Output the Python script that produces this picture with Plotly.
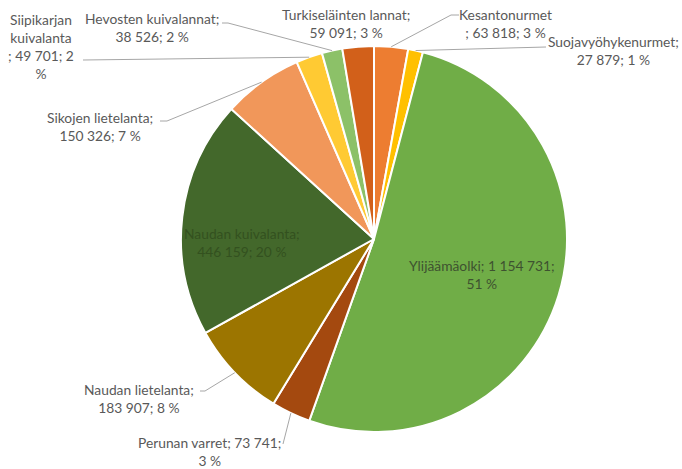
import math
import plotly.graph_objects as go

# ---- data (clockwise from 12 o'clock) ----
labels = ["Kesantonurmet", "Suojavyöhykenurmet", "Ylijäämäolki", "Perunan varret",
          "Naudan lietelanta", "Naudan kuivalanta", "Sikojen lietelanta",
          "Siipikarjan kuivalanta", "Hevosten kuivalannat", "Turkiseläinten lannat"]
values = [63818, 27879, 1154731, 73741, 183907, 446159, 150326, 49701, 38526, 59091]
colors = ["#ED7D31", "#FFC000", "#70AD47", "#A4490F", "#9C7500", "#43682B",
          "#F1975A", "#FFCA33", "#8CC168", "#D2601A"]

# ---- layout helpers ----
W, H = 682, 469
CX, CY, R = 374, 239, 193    # reference-pixel geometry


def px(x):
    return x / W


def py(y):
    return 1 - y / H


def fmt(v):
    return f"{v:,}".replace(",", " ")


total = sum(values)
pcts = [round(v / total * 100) for v in values]

templates = [
    "{n}<br>; {v}; {p} %",
    "{n};<br>{v}; {p} %",
    "{n}; {v};<br>{p} %",
    "{n}; {v};<br>{p} %",
    "{n};<br>{v}; {p} %",
    "{n};<br>{v}; {p} %",
    "{n};<br>{v}; {p} %",
    "Siipikarjan<br>kuivalanta<br>; {v}; {p}<br>%",
    "{n};<br>{v}; {p} %",
    "{n};<br>{v}; {p} %",
]
label_pos = [(505, 23), (613, 50), (482, 274), (209, 451), (139, 398), (242, 243),
             (100, 126), (41, 47), (152, 28), (346, 24)]
text_colors = ["#595959"] * 10
text_colors[2] = "#3E5230"
text_colors[5] = "#33511F"
leaders = [
    [(459, 15), (451, 15)],
    [(546, 47)],
    None,
    [(283, 444)],
    [(200, 391), (205, 391)],
    None,
    [(160, 121), (167, 121)],
    [(83, 60)],
    [(222, 23), (228, 23)],
    None,
]

fig = go.Figure(go.Pie(
    labels=labels,
    values=values,
    sort=False,
    direction="clockwise",
    rotation=0,
    textinfo="none",
    hoverinfo="label+value+percent",
    marker=dict(colors=colors, line=dict(color="#FFFFFF", width=2)),
    domain=dict(x=[px(CX - R), px(CX + R)], y=[py(CY + R), py(CY - R)]),
    showlegend=False,
))

annotations = []
shapes = []
cum = 0
for i, (name, v) in enumerate(zip(labels, values)):
    mid = (cum + v / 2) / total * 2 * math.pi
    cum += v
    ax_ = CX + R * math.sin(mid)
    ay_ = CY - R * math.cos(mid)
    txt = templates[i].format(n=name, v=fmt(v), p=pcts[i])
    lx, ly = label_pos[i]
    annotations.append(dict(
        x=px(lx), y=py(ly), xref="paper", yref="paper", text=txt, showarrow=False,
        xanchor="center", yanchor="middle", align="center",
        font=dict(family="Lato, Open Sans, sans-serif", size=13.8, color=text_colors[i]),
    ))
    if leaders[i]:
        pts = leaders[i] + [(ax_, ay_)]
        path = "M " + " L ".join(f"{px(x)},{py(y)}" for x, y in pts)
        shapes.append(dict(type="path", xref="paper", yref="paper", path=path,
                           line=dict(color="#A6A6A6", width=1)))

fig.update_layout(
    width=W, height=H,
    margin=dict(l=0, r=0, t=0, b=0),
    paper_bgcolor="white",
    plot_bgcolor="white",
    annotations=annotations,
    shapes=shapes,
)

fig.write_html("out.html",
               config={"displayModeBar": False},
               post_script="document.body.style.margin='0';document.body.style.overflow='hidden';")
